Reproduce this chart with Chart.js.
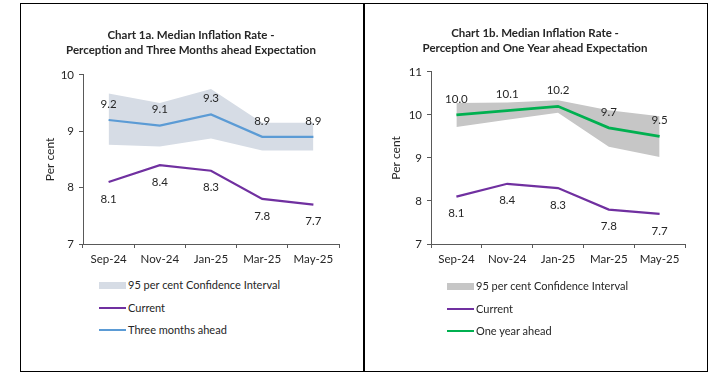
<!DOCTYPE html>
<html>
<head>
<meta charset="utf-8">
<script src="https://cdn.jsdelivr.net/npm/chart.js@4.4.1/dist/chart.umd.min.js"></script>
<style>
    body { margin: 0; background: #fff; font-family: Lato, "Liberation Sans", sans-serif; }
    .panel { position: absolute; top: 3px; height: 367px; border: 1px solid #000; }
    #panelA { left: 20px; width: 343px; }
    #panelB { left: 363px; width: 343px; }
    .panel canvas { position: absolute; left: 0; top: 0; }
    .legend { position: absolute; font-size: 11px; color: #262626; }
    .legend .item { position: absolute; left: 0; height: 14px; white-space: nowrap; }
    .legend .swatch { position: absolute; left: 0; width: 27px; }
    .legend .text { position: absolute; left: 29px; top: 0; line-height: 14px; }
</style>
</head>
<body>
<div class="panel" id="panelA">
    <canvas id="chartA" width="343" height="272"></canvas>
    <div class="legend" id="legendA" style="left:78px; top:274px;"></div>
</div>
<div class="panel" id="panelB">
    <canvas id="chartB" width="343" height="272"></canvas>
    <div class="legend" id="legendB" style="left:83px; top:275px;"></div>
</div>
<script>
const months = ["Sep-24", "Nov-24", "Jan-25", "Mar-25", "May-25"];

// Chart 1a
const currentA = [8.1, 8.4, 8.3, 7.8, 7.7];
const threeMonthsAhead = [9.2, 9.1, 9.3, 8.9, 8.9];
const threeMonthsUpper = [9.67, 9.50, 9.75, 9.15, 9.15];
const threeMonthsLower = [8.76, 8.73, 8.87, 8.66, 8.66];
const yTicksA = [7, 8, 9, 10];

// Chart 1b
const currentB = [8.1, 8.4, 8.3, 7.8, 7.7];
const oneYearAhead = [10.0, 10.1, 10.2, 9.7, 9.5];
const oneYearUpper = [10.28, 10.29, 10.34, 10.11, 9.97];
const oneYearLower = [9.72, 9.89, 10.05, 9.26, 9.02];
const yTicksB = [7, 8, 9, 10, 11];

const FONT = "Lato, 'Liberation Sans', sans-serif";
const TEXT = "#262626";
const AXIS = "#595959";
const PURPLE = "#7030a0";

// value labels above / below the points
const valueLabels = {
    id: "valueLabels",
    afterDatasetsDraw(chart) {
        const ctx = chart.ctx;
        ctx.save();
        ctx.font = "11.5px " + FONT;
        ctx.fillStyle = TEXT;
        ctx.textAlign = "center";
        ctx.textBaseline = "middle";
        chart.data.datasets.forEach((ds, i) => {
            if (!ds.labelPos) return;
            const meta = chart.getDatasetMeta(i);
            meta.data.forEach((pt, j) => {
                const dy = ds.labelPos === "above" ? -16 : 17;
                ctx.fillText(ds.data[j].toFixed(1), pt.x, pt.y + dy);
            });
        });
        ctx.restore();
    }
};

function buildLegend(chart, el) {
    el.innerHTML = "";
    const items = chart.data.datasets.filter(ds => ds.legendRow !== undefined)
        .sort((a, b) => a.legendRow - b.legendRow);
    items.forEach((ds, n) => {
        const item = document.createElement("div");
        item.className = "item";
        item.style.top = (n * 22.5) + "px";
        const sw = document.createElement("div");
        sw.className = "swatch";
        if (ds.fill) {
            sw.style.top = "4px";
            sw.style.height = "7px";
            sw.style.background = ds.backgroundColor;
        } else {
            sw.style.top = "6px";
            sw.style.height = "2px";
            sw.style.background = ds.borderColor;
        }
        const txt = document.createElement("span");
        txt.className = "text";
        txt.textContent = ds.label;
        item.appendChild(sw);
        item.appendChild(txt);
        el.appendChild(item);
    });
}

function makeChart(canvasId, legendId, opts) {
    const chart = new Chart(document.getElementById(canvasId), {
        type: "line",
        data: {
            labels: months,
            datasets: [
                {
                    label: "Current", data: opts.current, borderColor: PURPLE, borderWidth: 2.25,
                    pointRadius: 0, tension: 0, labelPos: "below", legendRow: 1
                },
                {
                    label: opts.aheadLabel, data: opts.ahead, borderColor: opts.aheadColor, borderWidth: opts.aheadWidth,
                    pointRadius: 0, tension: 0, labelPos: "above", legendRow: 2
                },
                {
                    label: "95 per cent Confidence Interval", data: opts.upper, borderWidth: 0,
                    borderColor: "rgba(0,0,0,0)", backgroundColor: opts.bandColor, fill: "+1",
                    pointRadius: 0, tension: 0, legendRow: 0
                },
                {
                    label: "lower", data: opts.lower, borderWidth: 0, borderColor: "rgba(0,0,0,0)",
                    pointRadius: 0, tension: 0, fill: false
                }
            ]
        },
        options: {
            responsive: false,
            animation: false,
            layout: { padding: { left: opts.padLeft, right: opts.padRight, top: 0, bottom: 2 } },
            plugins: {
                legend: { display: false },
                tooltip: { enabled: false },
                title: {
                    display: true,
                    text: opts.title,
                    color: TEXT,
                    font: { family: FONT, size: 11.5, weight: "bold", lineHeight: 1.3 },
                    padding: { top: opts.titleTop, bottom: opts.titleBottom }
                }
            },
            scales: {
                x: {
                    offset: true,
                    grid: { offset: true, drawOnChartArea: false, drawTicks: true, tickLength: 4, color: AXIS },
                    border: { display: true, color: AXIS, width: 1 },
                    ticks: { color: TEXT, font: { family: FONT, size: 11.5 }, padding: 4, maxRotation: 0 },
                    afterFit: s => { s.height = 30; }
                },
                y: {
                    min: opts.yTicks[0],
                    max: opts.yTicks[opts.yTicks.length - 1],
                    grid: { drawOnChartArea: false, drawTicks: true, tickLength: 4, color: AXIS },
                    border: { display: true, color: AXIS, width: 1 },
                    ticks: { stepSize: 1, color: TEXT, font: { family: FONT, size: 11.5 }, padding: 5 },
                    title: {
                        display: true, text: "Per cent", color: TEXT,
                        font: { family: FONT, size: 12 }, padding: { top: opts.yTitlePad, bottom: 0 }
                    },
                    afterFit: s => { s.width = opts.yWidth; }
                }
            }
        },
        plugins: [valueLabels]
    });
    buildLegend(chart, document.getElementById(legendId));
    return chart;
}

makeChart("chartA", "legendA", {
    title: ["Chart 1a. Median Inflation Rate -", "Perception and Three Months ahead Expectation"],
    current: currentA, ahead: threeMonthsAhead, upper: threeMonthsUpper, lower: threeMonthsLower,
    aheadLabel: "Three months ahead", aheadColor: "#5b9bd5", aheadWidth: 2.25,
    bandColor: "#d6dce5", yTicks: yTicksA,
    padLeft: 22, padRight: 25, yWidth: 40, yTitlePad: 0, titleTop: 24, titleBottom: 17
});

makeChart("chartB", "legendB", {
    title: ["Chart 1b. Median Inflation Rate -", "Perception and One Year ahead Expectation"],
    current: currentB, ahead: oneYearAhead, upper: oneYearUpper, lower: oneYearLower,
    aheadLabel: "One year ahead", aheadColor: "#00b050", aheadWidth: 2.75,
    bandColor: "#c6c6c6", yTicks: yTicksB,
    padLeft: 21, padRight: 22, yWidth: 46, yTitlePad: 4, titleTop: 22, titleBottom: 16
});
</script>
</body>
</html>
